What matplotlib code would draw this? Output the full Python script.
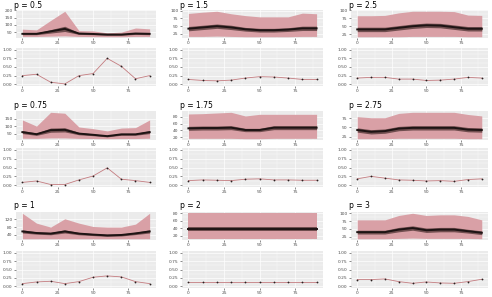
import numpy as np
import matplotlib
matplotlib.use('Agg')
import matplotlib.pyplot as plt

# x positions shared by all panels
x = [0, 10, 20, 30, 40, 50, 60, 70, 80, 90]

titles = ['p = 0.5', 'p = 1.5', 'p = 2.5',
          'p = 0.75', 'p = 1.75', 'p = 2.75',
          'p = 1', 'p = 2', 'p = 3']

# outer band (upper / lower), median line, inner band half width
upper_05 = [70, 65, 130, 193, 60, 58, 45, 50, 78, 72]
lower_05 = [20, 20, 22, 24, 20, 19, 18, 18, 20, 20]
median_05 = [38, 38, 55, 72, 40, 37, 33, 33, 40, 38]
inner_05 = [6, 6, 12, 18, 6, 5, 5, 5, 6, 6]
frac_05 = [0.25, 0.29, 0.06, 0.01, 0.25, 0.31, 0.75, 0.52, 0.16, 0.25]

upper_15 = [91, 95, 98, 90, 84, 80, 80, 80, 92, 90]
lower_15 = [17, 17, 18, 17, 16, 16, 16, 16, 17, 17]
median_15 = [42, 46, 50, 46, 40, 37, 37, 39, 43, 43]
inner_15 = [7, 7, 7, 7, 6, 6, 6, 6, 7, 7]
frac_15 = [0.14, 0.11, 0.10, 0.12, 0.18, 0.22, 0.21, 0.18, 0.14, 0.14]

upper_25 = [83, 83, 84, 92, 97, 97, 97, 96, 85, 84]
lower_25 = [17, 17, 17, 17, 18, 18, 18, 18, 17, 17]
median_25 = [40, 40, 40, 45, 50, 53, 52, 47, 42, 42]
inner_25 = [7, 7, 7, 7, 7, 7, 7, 7, 7, 7]
frac_25 = [0.18, 0.20, 0.20, 0.15, 0.15, 0.11, 0.12, 0.15, 0.20, 0.18]

upper_075 = [141, 100, 192, 186, 94, 83, 68, 87, 90, 141]
lower_075 = [19, 18, 21, 21, 18, 17, 16, 17, 17, 19]
median_075 = [60, 46, 73, 75, 50, 42, 33, 45, 45, 60]
inner_075 = [10, 8, 14, 14, 8, 6, 5, 6, 6, 10]
frac_075 = [0.08, 0.12, 0.02, 0.02, 0.15, 0.26, 0.49, 0.17, 0.13, 0.08]

upper_175 = [89, 90, 92, 94, 83, 88, 88, 88, 88, 88]
lower_175 = [16, 16, 16, 16, 15, 15, 16, 16, 16, 16]
median_175 = [46, 47, 47, 48, 41, 41, 48, 48, 48, 48]
inner_175 = [6, 6, 6, 6, 5, 5, 6, 6, 6, 6]
frac_175 = [0.13, 0.15, 0.14, 0.13, 0.17, 0.18, 0.15, 0.15, 0.14, 0.14]

upper_275 = [80, 77, 77, 89, 92, 92, 92, 92, 86, 82]
lower_275 = [19, 19, 19, 20, 20, 20, 20, 20, 19, 19]
median_275 = [43, 38, 40, 47, 49, 49, 49, 49, 44, 43]
inner_275 = [6, 6, 6, 6, 6, 6, 6, 6, 6, 6]
frac_275 = [0.18, 0.25, 0.20, 0.15, 0.14, 0.12, 0.13, 0.11, 0.16, 0.18]

upper_1 = [150, 100, 80, 122, 100, 83, 80, 80, 95, 150]
lower_1 = [21, 21, 21, 21, 21, 21, 21, 21, 21, 21]
median_1 = [58, 50, 47, 58, 47, 42, 38, 40, 48, 58]
inner_1 = [8, 6, 6, 8, 6, 5, 5, 5, 6, 8]
frac_1 = [0.08, 0.13, 0.15, 0.08, 0.14, 0.27, 0.31, 0.28, 0.14, 0.08]

upper_2 = [80, 80, 80, 80, 80, 80, 80, 80, 80, 80]
lower_2 = [12, 12, 12, 12, 12, 12, 12, 12, 12, 12]
median_2 = [37, 37, 37, 37, 37, 37, 37, 37, 37, 37]
inner_2 = [5, 5, 5, 5, 5, 5, 5, 5, 5, 5]
frac_2 = [0.13, 0.13, 0.13, 0.13, 0.13, 0.13, 0.13, 0.13, 0.13, 0.13]

upper_3 = [79, 79, 79, 93, 100, 93, 95, 95, 90, 79]
lower_3 = [19, 19, 19, 20, 21, 20, 20, 20, 20, 19]
median_3 = [40, 40, 40, 48, 53, 46, 48, 48, 43, 38]
inner_3 = [6, 6, 6, 7, 7, 7, 7, 7, 6, 6]
frac_3 = [0.20, 0.20, 0.22, 0.14, 0.09, 0.13, 0.10, 0.09, 0.14, 0.21]

top_ticks = [[50, 100, 150, 200], [25, 50, 75, 100], [25, 50, 75, 100],
             [50, 100, 150], [20, 40, 60, 80], [25, 50, 75],
             [40, 80, 120], [20, 40, 60, 80], [25, 50, 75, 100]]

groups = [
    (upper_05, lower_05, median_05, inner_05, frac_05),
    (upper_15, lower_15, median_15, inner_15, frac_15),
    (upper_25, lower_25, median_25, inner_25, frac_25),
    (upper_075, lower_075, median_075, inner_075, frac_075),
    (upper_175, lower_175, median_175, inner_175, frac_175),
    (upper_275, lower_275, median_275, inner_275, frac_275),
    (upper_1, lower_1, median_1, inner_1, frac_1),
    (upper_2, lower_2, median_2, inner_2, frac_2),
    (upper_3, lower_3, median_3, inner_3, frac_3),
]

W, H = 492, 297
fig = plt.figure(figsize=(W / 100, H / 100), dpi=100)
fig.patch.set_facecolor('white')

# pixel layout: column (left, right), row (title y, top panel, bottom panel)
cols = [(16, 156), (182, 323), (351, 488)]
rows = [(5, (10, 38), (48, 86)),
        (105, (111, 140), (148, 187)),
        (206, (212, 240), (251, 288))]


def px_axes(l, r, t, b):
    return fig.add_axes([l / W, 1 - b / H, (r - l) / W, (b - t) / H])


def style(ax):
    ax.set_facecolor('#EBEBEB')
    for s in ax.spines.values():
        s.set_visible(False)
    ax.grid(True, which='major', color='white', lw=0.5)
    ax.grid(True, which='minor', color='white', lw=0.25)
    ax.set_axisbelow(True)
    ax.tick_params(which='major', length=1.5, width=0.4, color='#333333',
                   labelsize=3.2, labelcolor='#4D4D4D', pad=1)
    ax.tick_params(which='minor', length=0)
    ax.set_xlim(-4.5, 94.5)
    ax.set_xticks([0, 25, 50, 75])
    ax.set_xticks([12.5, 37.5, 62.5, 87.5], minor=True)


for i, (up, lo, med, inn, frac) in enumerate(groups):
    l, r = cols[i % 3]
    ty, (tt, tb), (bt, bb) = rows[i // 3]
    up, lo, med, inn = map(np.array, (up, lo, med, inn))

    ax = px_axes(l, r, tt, tb)
    style(ax)
    ax.fill_between(x, lo, up, color='#D9A0A6', lw=0)
    ax.fill_between(x, med - inn, med + inn, color='#5E4040', alpha=0.85, lw=0)
    ax.plot(x, med, color='#1E1414', lw=1.4)
    ymin, ymax = lo.min(), up.max()
    pad = (ymax - ymin) * 0.05
    ax.set_ylim(ymin - pad, ymax + pad)
    ticks = top_ticks[i]
    ax.set_yticks(ticks)
    ax.set_yticks([(a + b) / 2 for a, b in zip(ticks[:-1], ticks[1:])], minor=True)
    fig.text((l - 2) / W, 1 - ty / H, titles[i], fontsize=5.5, color='black',
             ha='left', va='center')

    ax2 = px_axes(l, r, bt, bb)
    style(ax2)
    ax2.plot(x, frac, color='#C47C80', lw=0.6)
    ax2.plot(x, frac, 'o', color='#2A2020', ms=1.3, mew=0)
    ax2.set_ylim(-0.05, 1.05)
    ax2.set_yticks([0, 0.25, 0.5, 0.75, 1.0])
    ax2.set_yticklabels(['0.00', '0.25', '0.50', '0.75', '1.00'])
    ax2.set_yticks([0.125, 0.375, 0.625, 0.875], minor=True)

fig.savefig('out.png', dpi=100)
